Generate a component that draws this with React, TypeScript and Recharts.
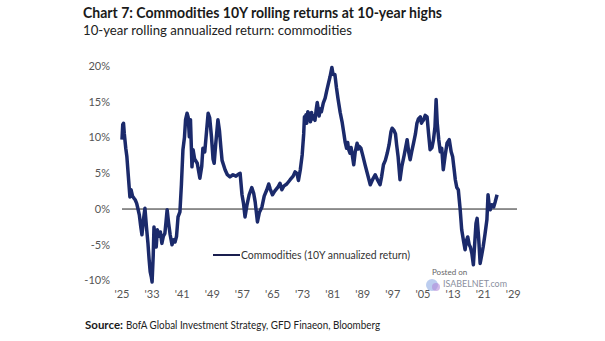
import React from "react";
import { LineChart, Line, XAxis, YAxis, ReferenceLine } from "recharts";

const years: number[] = [
  1925.0, 1925.2, 1925.4, 1925.6, 1926.0, 1926.3, 1926.7, 1927.1, 1927.4, 1927.8,
  1928.2, 1928.5, 1928.9, 1929.3, 1929.6, 1930.0, 1930.3, 1930.7, 1931.1, 1931.5,
  1931.9, 1932.2, 1932.5, 1932.8, 1933.0, 1933.3, 1933.5, 1933.8, 1934.1, 1934.4,
  1934.8, 1935.2, 1935.6, 1936.0, 1936.4, 1936.7, 1937.0, 1937.4, 1937.8, 1938.3,
  1938.7, 1939.1, 1939.5, 1939.9, 1940.4, 1940.8, 1941.2, 1941.6, 1941.9, 1942.3,
  1942.6, 1942.9, 1943.2, 1943.6, 1943.9, 1944.3, 1945.0, 1945.7, 1946.2, 1946.5,
  1947.0, 1947.5, 1947.9, 1948.3, 1948.8, 1949.2, 1949.5, 1949.9, 1950.5, 1950.9,
  1951.3, 1951.6, 1952.4, 1953.0, 1953.7, 1954.5, 1955.3, 1956.0, 1956.4, 1956.9,
  1957.3, 1957.7, 1958.2, 1958.8, 1959.5, 1960.0, 1960.4, 1961.0, 1961.5, 1962.2,
  1962.8, 1963.5, 1964.0, 1964.4, 1965.0, 1965.6, 1966.5, 1967.0, 1967.5, 1968.0,
  1968.8, 1969.7, 1970.5, 1971.0, 1971.5, 1971.9, 1972.4, 1972.9, 1973.3, 1973.5,
  1973.7, 1973.9, 1974.1, 1974.4, 1974.6, 1974.9, 1975.1, 1975.4, 1975.6, 1976.0,
  1976.3, 1976.6, 1976.9, 1977.1, 1977.4, 1977.7, 1978.0, 1978.5, 1979.0, 1979.4,
  1979.8, 1980.3, 1980.8, 1981.1, 1981.6, 1982.0, 1982.4, 1983.0, 1983.5, 1984.0,
  1984.3, 1984.7, 1985.0, 1985.2, 1985.6, 1985.9, 1986.2, 1986.6, 1987.0, 1987.5,
  1987.8, 1988.0, 1988.5, 1989.0, 1989.6, 1990.2, 1991.0, 1991.5, 1992.3, 1993.0,
  1993.6, 1994.0, 1994.5, 1995.0, 1995.5, 1996.0, 1996.5, 1996.8, 1997.3, 1997.7,
  1998.0, 1998.4, 1998.9, 1999.4, 2000.0, 2000.8, 2001.2, 2001.6, 2002.0, 2002.5,
  2003.0, 2003.4, 2003.8, 2004.3, 2004.6, 2004.8, 2005.2, 2005.6, 2006.1, 2006.5,
  2006.9, 2007.4, 2007.8, 2008.2, 2008.5, 2008.8, 2009.2, 2009.6, 2010.0, 2010.4,
  2010.9, 2011.4, 2012.0, 2012.5, 2012.9, 2013.3, 2013.6, 2014.0, 2014.4, 2014.9,
  2015.3, 2015.8, 2016.2, 2016.5, 2016.9, 2017.3, 2017.6, 2018.0, 2018.4, 2018.8,
  2019.1, 2019.4, 2019.8, 2020.2, 2020.6, 2021.0, 2021.5, 2022.0, 2022.3, 2022.6,
  2022.9, 2023.3, 2023.8, 2024.2, 2024.7,
];

const returns: number[] = [
  9.7, 11.8, 12.0, 10.6, 8.5, 7.3, 4.5, 1.7, 2.7, 1.8,
  1.5, 1.3, 0.8, -0.1, -0.8, -2.5, -3.6, -1.5, 0.1, -2.5,
  -4.8, -7.0, -8.8, -9.5, -10.2, -6.5, -2.5, -4.0, -5.3, -2.9,
  -3.8, -3.2, -4.8, -3.8, -3.4, -1.8, -0.1, -2.0, -3.6, -5.0,
  -4.3, -4.6, -3.8, -1.1, -0.4, 3.5, 8.3, 10.0, 12.5, 13.4,
  12.8, 10.1, 12.5, 5.9, 8.3, 7.0, 6.4, 4.3, 6.0, 8.5,
  8.0, 11.0, 13.4, 12.8, 10.0, 7.0, 6.4, 9.0, 12.5, 11.0,
  8.5, 6.8, 5.5, 4.8, 4.5, 4.8, 4.6, 4.9, 5.0, 2.0,
  0.8, -1.1, 0.5, 2.0, 3.0, 2.2, 1.0, -1.8, -0.5, 0.3,
  1.8, 2.7, 3.5, 2.8, 2.0, 2.5, 3.1, 3.6, 2.7, 3.2,
  3.5, 4.1, 4.6, 5.2, 5.0, 4.0, 5.5, 7.6, 10.5, 12.9,
  12.2, 13.2, 12.0, 13.6, 12.8, 13.4, 12.2, 13.5, 12.6, 13.0,
  12.4, 13.8, 14.9, 14.2, 13.0, 14.0, 13.6, 14.8, 15.5, 16.5,
  17.4, 18.5, 19.8, 18.8, 18.8, 17.0, 15.5, 13.5, 12.2, 10.5,
  9.4, 8.5, 9.3, 8.4, 7.8, 8.6, 7.6, 6.2, 8.0, 9.2,
  8.4, 8.8, 8.5, 7.5, 6.2, 5.0, 3.4, 4.0, 4.8, 4.0,
  3.4, 4.5, 6.2, 6.8, 7.8, 9.0, 10.8, 11.3, 11.0, 10.5,
  9.0, 7.3, 4.1, 6.0, 7.5, 9.7, 8.0, 6.9, 8.0, 9.2,
  10.5, 12.0, 12.6, 12.9, 12.0, 12.2, 12.5, 13.1, 12.9, 10.5,
  8.3, 8.6, 9.7, 11.5, 15.3, 12.0, 9.7, 8.0, 8.5, 5.5,
  7.5, 9.2, 9.7, 8.0, 7.3, 5.5, 4.1, 3.0, 2.7, -0.1,
  -2.9, -4.5, -5.7, -4.5, -3.9, -5.0, -5.3, -6.2, -7.8, -4.5,
  -2.0, -1.3, -4.0, -7.6, -6.5, -5.3, -3.5, -1.5, 2.0, 0.5,
  -0.1, 0.6, 0.3, 1.0, 2.0,
];

const xTicks: number[] = [1925, 1933, 1941, 1949, 1957, 1965, 1973, 1981, 1989, 1997, 2005, 2013, 2021, 2029];
const yTicks: number[] = [-10, -5, 0, 5, 10, 15, 20];

const title = "Chart 7: Commodities 10Y rolling returns at 10-year highs";
const subtitle = "10-year rolling annualized return: commodities";
const seriesName = "Commodities (10Y annualized return)";
const sourceLabel = "Source:";
const sourceText = "BofA Global Investment Strategy, GFD Finaeon, Bloomberg";

const data = years.map((y, i) => ({ year: y, value: returns[i] }));

const LINE_COLOR = "#1b2a6b";
const FONT = "Lato, 'Open Sans', sans-serif";

export default function App() {
  return (
    <div style={{ position: "absolute", left: 0, top: 0, width: 605, height: 341, background: "#fff" }}>
      <LineChart
        width={605}
        height={341}
        data={data}
        margin={{ top: 66, right: 88, bottom: 29, left: 82 }}
      >
        <XAxis
          dataKey="year"
          type="number"
          domain={[1925, 2030]}
          ticks={xTicks}
          tickFormatter={(v: number) => "'" + String(v).slice(2)}
          axisLine={false}
          tickLine={false}
          tickSize={0}
          tickMargin={8}
          height={30}
          tick={{ fill: "#555", fontSize: 11, fontFamily: FONT }}
          interval={0}
        />
        <YAxis
          type="number"
          domain={[-10, 20]}
          ticks={yTicks}
          tickFormatter={(v: number) => v + "%"}
          axisLine={false}
          tickLine={false}
          tickSize={0}
          tickMargin={12}
          width={40}
          tick={{ fill: "#555", fontSize: 11, fontFamily: FONT }}
          interval={0}
        />
        <ReferenceLine y={0} stroke="#222" strokeWidth={1} />
        <Line
          type="linear"
          dataKey="value"
          name={seriesName}
          stroke={LINE_COLOR}
          strokeWidth={3.5}
          strokeLinejoin="round"
          dot={false}
          isAnimationActive={false}
        />
      </LineChart>
      <svg
        width={605}
        height={341}
        style={{ position: "absolute", left: 0, top: 0, pointerEvents: "none" }}
      >
        <text x={83} y={18} fontFamily={FONT} fontWeight={700} fontSize={15.5} fill="#1a1a1a" textLength={359} lengthAdjust="spacingAndGlyphs">
          {title}
        </text>
        <text x={83} y={35} fontFamily={FONT} fontSize={13} fill="#222" textLength={269} lengthAdjust="spacingAndGlyphs">
          {subtitle}
        </text>
        <line x1={213} y1={255} x2={240} y2={255} stroke="#1a1f4f" strokeWidth={2} />
        <text x={241} y={259} fontFamily={FONT} fontSize={11} fill="#333" textLength={169} lengthAdjust="spacingAndGlyphs">
          {seriesName}
        </text>
        <text x={432} y={275} fontFamily={FONT} fontSize={8} fill="#666">
          Posted on
        </text>
        <circle cx={432} cy={285} r={6} fill="#9fb8e8" opacity={0.7} />
        <circle cx={436} cy={287} r={4} fill="#b08ad8" opacity={0.6} />
        <text x={443} y={287} fontFamily={FONT} fontSize={10} fill="#8a8f9e" textLength={64} lengthAdjust="spacingAndGlyphs">
          ISABELNET.com
        </text>
        <text x={85} y={329} fontFamily={FONT} fontWeight={700} fontSize={11} fill="#1a1a1a" textLength={38} lengthAdjust="spacingAndGlyphs">
          {sourceLabel}
        </text>
        <text x={126} y={329} fontFamily={FONT} fontSize={11} fill="#222" textLength={254} lengthAdjust="spacingAndGlyphs">
          {sourceText}
        </text>
      </svg>
    </div>
  );
}
